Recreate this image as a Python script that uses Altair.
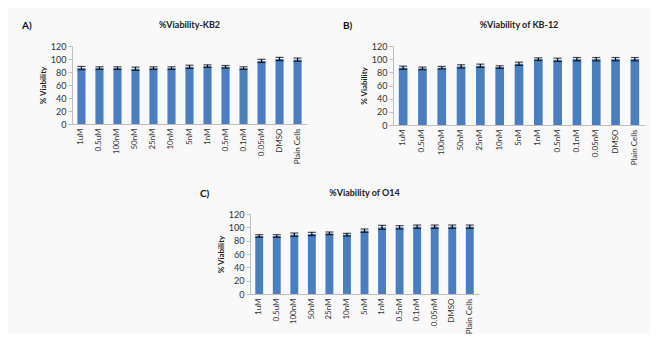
import altair as alt
import pandas as pd

categories = ["1uM", "0.5uM", "100nM", "50nM", "25nM", "10nM", "5nM", "1nM",
              "0.5nM", "0.1nM", "0.05nM", "DMSO", "Plain Cells"]

kb2_values = [86, 86, 86, 85, 86, 86, 88, 89, 88, 86, 97, 100, 99]
kb2_errors = [2.5, 2, 2, 2.5, 2, 2, 2.5, 2, 2, 2, 2.5, 2.5, 2.5]

kb12_values = [87, 86, 87, 89, 90, 88, 93, 100, 99, 100, 100, 100, 100]
kb12_errors = [2.5, 2, 2, 2.5, 2.5, 2, 2.5, 2, 2.5, 2.5, 2.5, 2.5, 2.5]

o14_values = [87, 87, 89, 90, 91, 89, 95, 100, 100, 101, 101, 101, 101]
o14_errors = [2, 2, 2.5, 2.5, 2, 2, 2.5, 3, 2.5, 2.5, 2.5, 2.5, 2.5]

y_ticks = [0, 20, 40, 60, 80, 100, 120]

FONT = "Lato"
BAR = "#4a7ebf"


def ycol(field):
    return alt.Y(field, title="% Viability",
                 scale=alt.Scale(domain=[0, 120]),
                 axis=alt.Axis(values=y_ticks, grid=False,
                               labelOverlap=False, labelFlush=False,
                               labelFontSize=9, labelColor="#333", titleFontSize=8,
                               titleFontWeight="bold", titleColor="#222",
                               domainColor="#bfbfbf", tickColor="#bfbfbf",
                               tickSize=4, titlePadding=3))


def xcol():
    return alt.X("cat:N", sort=categories, title=None,
                 scale=alt.Scale(paddingInner=0.55, paddingOuter=0.3),
                 axis=alt.Axis(labelAngle=-90, labelFontSize=8, labelColor="#333",
                               ticks=False, domainColor="#bfbfbf", labelPadding=4))


def panel(title, label, values, errors, w, h):
    df = pd.DataFrame({
        "cat": categories,
        "v": values,
        "lo": [v - e for v, e in zip(values, errors)],
        "hi": [v + e for v, e in zip(values, errors)],
    })
    base = alt.Chart(df)
    bars = base.mark_bar(color=BAR).encode(x=xcol(), y=ycol("v:Q"))
    rule = base.mark_rule(color="black", strokeWidth=1.2).encode(
        x=xcol(), y=ycol("lo:Q"), y2="hi:Q")
    cap_hi = base.mark_tick(color="black", size=8, thickness=1.2).encode(
        x=xcol(), y=ycol("hi:Q"))
    cap_lo = base.mark_tick(color="black", size=8, thickness=1.2).encode(
        x=xcol(), y=ycol("lo:Q"))
    lab = alt.Chart(pd.DataFrame({"t": [label]})).mark_text(
        align="left", baseline="middle", fontSize=10, fontWeight="bold",
        font=FONT, color="#111").encode(
        text="t:N", x=alt.value(-50), y=alt.value(-20))
    ttl = alt.Chart(pd.DataFrame({"t": [title]})).mark_text(
        align="center", baseline="middle", fontSize=9, fontWeight="bold",
        font=FONT, color="#222").encode(
        text="t:N", x=alt.value(w / 2), y=alt.value(-21))
    return alt.layer(bars, rule, cap_hi, cap_lo, lab, ttl).properties(
        width=w, height=h)


a = panel("%Viability-KB2", "A)", kb2_values, kb2_errors, 235, 78)
b = panel("%Viability of KB-12", "B)", kb12_values, kb12_errors, 252, 79)
c = panel("%Viability of O14", "C)", o14_values, o14_errors, 229, 80)

spacer = alt.Chart(pd.DataFrame({"a": [0]})).mark_point(opacity=0).encode(
    x=alt.value(0), y=alt.value(0)).properties(width=110, height=10)

top = alt.hconcat(a, b, spacing=36)
bottom = alt.hconcat(spacer, c, spacing=18)

chart = alt.vconcat(top, bottom, spacing=24).properties(
    padding={"left": 14, "top": 13, "right": 5, "bottom": 0},
    background="#f9f9f9",
).configure_view(stroke=None).configure_axis(labelFont=FONT, titleFont=FONT)

chart.save("out.html", embed_options={"renderer": "svg", "actions": False})
